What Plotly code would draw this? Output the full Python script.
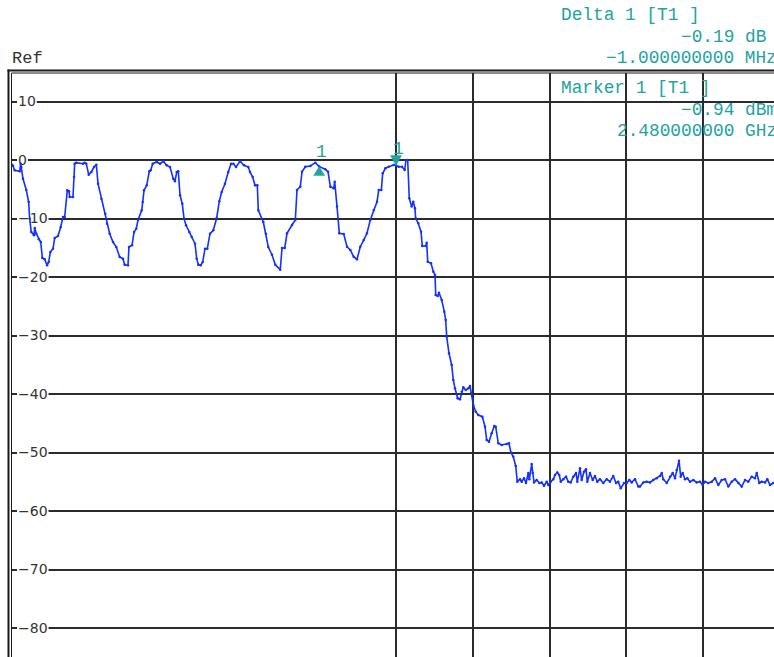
import plotly.graph_objects as go

START_MHZ = 2475.0

# Trace 1: frequency offset from the start frequency (MHz) and level (dBm)
offset_mhz = [
    0.000, 0.013, 0.035, 0.100, 0.113, 0.121, 0.143, 0.186, 0.217, 0.230,
    0.251, 0.286, 0.296, 0.316, 0.348, 0.374, 0.395, 0.426, 0.456, 0.478,
    0.499, 0.534, 0.556, 0.599, 0.634, 0.664, 0.686, 0.720, 0.742, 0.751,
    0.794, 0.807, 0.816, 0.837, 0.924, 0.947, 0.967, 0.999, 1.033, 1.068,
    1.098, 1.120, 1.163, 1.215, 1.237, 1.272, 1.315, 1.358, 1.402, 1.445,
    1.467, 1.510, 1.523, 1.563, 1.589, 1.618, 1.641, 1.689, 1.702, 1.719,
    1.754, 1.788, 1.806, 1.832, 1.884, 1.927, 1.970, 2.014, 2.057, 2.100,
    2.122, 2.145, 2.165, 2.188, 2.217, 2.240, 2.266, 2.309, 2.340, 2.383,
    2.405, 2.426, 2.457, 2.483, 2.513, 2.543, 2.578, 2.621, 2.665, 2.699,
    2.730, 2.773, 2.816, 2.852, 2.882, 2.917, 2.969, 3.021, 3.077, 3.099,
    3.134, 3.164, 3.194, 3.207, 3.272, 3.307, 3.337, 3.385, 3.428, 3.493,
    3.516, 3.551, 3.581, 3.646, 3.689, 3.711, 3.754, 3.776, 3.819, 3.884,
    3.949, 4.000, 4.079, 4.115, 4.145, 4.189, 4.202, 4.232, 4.262, 4.319,
    4.362, 4.405, 4.449, 4.492, 4.535, 4.579, 4.622, 4.665, 4.710, 4.753,
    4.775, 4.809, 4.827, 4.861, 4.905, 4.970, 5.000, 5.035, 5.078, 5.113,
    5.130, 5.152, 5.173, 5.204, 5.225, 5.247, 5.256, 5.290, 5.326, 5.342,
    5.387, 5.400, 5.413, 5.456, 5.486, 5.508, 5.517, 5.543, 5.560, 5.595,
    5.629, 5.647, 5.660, 5.690, 5.725, 5.746, 5.768, 5.803, 5.833, 5.855,
    5.876, 5.908, 5.941, 5.964, 5.977, 6.007, 6.038, 6.072, 6.124, 6.159,
    6.181, 6.211, 6.246, 6.280, 6.298, 6.332, 6.376, 6.441, 6.471, 6.497,
    6.527, 6.559, 6.579, 6.615, 6.637, 6.667, 6.693, 6.723, 6.736, 6.767,
    6.780, 6.797, 6.832, 6.866, 6.897, 6.927, 6.962, 6.983, 7.014, 7.048,
    7.070, 7.100, 7.126, 7.145, 7.178, 7.214, 7.243, 7.275, 7.309, 7.344,
    7.361, 7.396, 7.418, 7.448, 7.474, 7.491, 7.526, 7.561, 7.591, 7.621,
    7.656, 7.699, 7.743, 7.786, 7.829, 7.865, 7.894, 7.926, 7.969, 8.004,
    8.038, 8.069, 8.112, 8.155, 8.177, 8.220, 8.264, 8.307, 8.350, 8.395,
    8.438, 8.460, 8.480, 8.525, 8.568, 8.603, 8.633, 8.655, 8.685, 8.707,
    8.733, 8.763, 8.793, 8.828, 8.871, 8.915, 8.958, 8.993, 9.023, 9.066,
    9.111, 9.154, 9.197, 9.241, 9.284, 9.327, 9.371, 9.414, 9.457, 9.501,
    9.544, 9.587, 9.631, 9.674, 9.697, 9.730, 9.762, 9.805, 9.835, 9.870,
    9.913, 10.000,
]
level_dbm = [
    -0.80, -1.00, -1.76, -1.93, -0.63, -1.20, -3.20, -5.13, -7.18, -10.03,
    -12.31, -12.87, -11.62, -12.60, -13.56, -14.02, -16.75, -16.97, -18.00, -17.44,
    -15.73, -15.16, -13.33, -12.99, -11.45, -9.74, -9.74, -5.18, -5.35, -6.32,
    -6.32, -2.91, -0.63, -0.46, -0.63, -0.46, -0.63, -2.51, -2.05, -1.20,
    -0.80, -4.05, -6.62, -9.18, -10.89, -12.60, -14.02, -14.87, -16.58, -16.87,
    -17.90, -18.00, -14.87, -14.58, -12.31, -11.74, -10.26, -8.60, -7.18, -5.18,
    -4.33, -1.93, -1.76, -0.63, -0.34, -0.63, -0.22, -0.91, -1.20, -3.20,
    -3.64, -2.05, -1.93, -6.03, -7.47, -10.03, -11.16, -12.31, -13.16, -14.31,
    -16.87, -17.90, -18.00, -17.44, -15.16, -15.16, -12.60, -12.02, -9.91, -7.06,
    -5.47, -4.05, -2.05, -0.63, -0.63, -1.20, -0.22, -0.91, -1.20, -2.05,
    -2.91, -4.33, -4.33, -8.60, -10.60, -12.60, -14.87, -16.19, -17.90, -18.75,
    -15.04, -15.04, -12.53, -11.11, -10.26, -5.13, -4.56, -2.00, -1.15, -1.03,
    -0.46, -1.13, -1.59, -2.00, -4.56, -4.83, -3.70, -7.97, -12.53, -12.65,
    -14.82, -15.38, -16.53, -16.97, -14.82, -13.68, -12.53, -10.26, -8.55, -7.13,
    -5.13, -5.13, -2.27, -1.42, -1.15, -0.85, -0.94, -1.15, -1.15, -1.71,
    0.00, 0.00, -6.55, -7.97, -7.13, -8.26, -9.97, -10.82, -12.26, -14.70,
    -14.70, -14.13, -17.38, -17.66, -19.09, -19.66, -23.08, -23.25, -22.68, -23.93,
    -25.93, -27.35, -30.20, -33.04, -35.04, -37.61, -39.03, -40.74, -40.91, -39.62,
    -38.85, -39.32, -39.03, -38.63, -39.88, -41.88, -43.03, -43.59, -43.88, -45.59,
    -47.86, -48.15, -46.72, -45.47, -45.59, -48.43, -48.72, -48.55, -48.43, -50.03,
    -50.72, -52.31, -54.99, -54.56, -54.99, -54.40, -55.21, -53.50, -54.56, -51.97,
    -53.50, -55.11, -54.70, -55.21, -55.11, -55.68, -54.99, -55.56, -54.99, -54.56,
    -53.85, -53.40, -53.85, -54.99, -54.56, -54.13, -54.99, -55.11, -54.13, -53.50,
    -54.99, -52.70, -54.70, -53.28, -52.87, -54.99, -53.50, -54.70, -54.02, -54.99,
    -54.56, -55.21, -54.56, -54.99, -54.02, -55.21, -54.99, -56.12, -55.21, -55.21,
    -54.70, -55.11, -54.56, -55.81, -55.81, -55.11, -54.99, -55.11, -54.70, -54.40,
    -54.02, -53.50, -54.56, -55.21, -54.13, -53.50, -54.40, -52.99, -51.40, -54.13,
    -53.50, -54.56, -54.40, -54.99, -54.70, -55.11, -54.99, -55.56, -54.99, -55.21,
    -54.99, -54.40, -55.56, -54.70, -54.56, -55.81, -54.99, -54.56, -55.21, -55.81,
    -54.70, -54.99, -54.13, -54.40, -53.50, -55.21, -54.99, -55.11, -54.56, -55.56,
    -55.21, -55.00,
]

# Marker 1 (absolute) and Delta 1 (relative to marker 1)
marker_freq_mhz = 2480.0
marker_level_dbm = -0.94
delta_freq_mhz = -1.0
delta_level_db = -0.19

level_ticks = [10, 0, -10, -20, -30, -40, -50, -60, -70, -80]
freq_grid_mhz = [2480, 2481, 2482, 2483, 2484]

freq_mhz = [START_MHZ + o for o in offset_mhz]

TRACE_BLUE = "#1230ff"
TEAL = "#22a39e"
GRID = "#2b2b2b"
FRAME = "#1a1a1a"
MONO = "Liberation Mono"
MONO_SIZE = 17.8
TICK_SIZE = 14

W, H = 774, 657
L_M, T_M = 12, 73
PLOT_W, PLOT_H = W - L_M, H - T_M
PX_PER_MHZ = 76.8
PX_PER_DB = 5.85
ZERO_Y = 160.0  # pixel row of 0 dBm

x_range = [START_MHZ, START_MHZ + PLOT_W / PX_PER_MHZ]
y_range = [(ZERO_Y - H) / PX_PER_DB, (ZERO_Y - T_M) / PX_PER_DB]

fig = go.Figure()

fig.add_trace(go.Scatter(
    x=freq_mhz, y=level_dbm, mode="lines+markers",
    line=dict(color=TRACE_BLUE, width=1.6),
    marker=dict(color=TRACE_BLUE, size=2.5),
    hoverinfo="skip", showlegend=False,
))

shapes = []

# white gaps behind the level labels so the grid lines stop at the text
def label_width(txt):
    return sum((0.838 if ch == "\u2212" else 0.636) * TICK_SIZE for ch in txt)

for v in level_ticks:
    txt = ("\u2212" if v < 0 else "") + str(abs(v))
    shapes.append(dict(
        type="rect", layer="between",
        xref="x", xsizemode="pixel", xanchor=START_MHZ,
        x0=5, x1=7 + label_width(txt),
        yref="y", ysizemode="pixel", yanchor=v, y0=-3, y1=3,
        fillcolor="white", line=dict(width=0),
    ))

# double frame on the left and top
shapes.append(dict(type="line", xref="paper", xsizemode="pixel", xanchor=0,
                   x0=-0.5, x1=-0.5, yref="paper", y0=-0.05, y1=1.0,
                   line=dict(color=FRAME, width=1)))
shapes.append(dict(type="line", xref="paper", xsizemode="pixel", xanchor=0,
                   x0=-3.5, x1=-3.5, yref="paper", y0=-0.05, y1=1 + 3.5 / PLOT_H,
                   line=dict(color=FRAME, width=2)))
shapes.append(dict(type="line", xref="paper", x0=-0.5 / PLOT_W, x1=1.05,
                   yref="paper", ysizemode="pixel", yanchor=1, y0=0, y1=0,
                   line=dict(color=FRAME, width=1)))
shapes.append(dict(type="line", xref="paper", x0=-4.5 / PLOT_W, x1=1.05,
                   yref="paper", ysizemode="pixel", yanchor=1, y0=2.5, y1=2.5,
                   line=dict(color=FRAME, width=2)))

# marker symbols: down-triangle on marker 1, up-triangle on the delta marker
delta_abs_freq = marker_freq_mhz + delta_freq_mhz
delta_abs_level = marker_level_dbm + delta_level_db
shapes.append(dict(type="path", layer="above",
                   xref="x", xsizemode="pixel", xanchor=marker_freq_mhz,
                   yref="y", ysizemode="pixel", yanchor=marker_level_dbm,
                   path="M -5.5 10 L 5.5 10 L 0 0 Z",
                   fillcolor=TEAL, line=dict(color=TEAL, width=0.5)))
shapes.append(dict(type="path", layer="above",
                   xref="x", xsizemode="pixel", xanchor=delta_abs_freq,
                   yref="y", ysizemode="pixel", yanchor=delta_abs_level,
                   path="M -5.5 -9 L 5.5 -9 L 0 0 Z",
                   fillcolor=TEAL, line=dict(color=TEAL, width=0.5)))

annotations = []

def px_text(txt, left_px, center_px, color=TEAL, size=MONO_SIZE, family=MONO):
    annotations.append(dict(
        text=txt, xref="paper", yref="paper", x=0, y=1,
        xanchor="left", yanchor="middle",
        xshift=left_px - L_M, yshift=T_M - center_px,
        showarrow=False, font=dict(family=family, size=size, color=color),
    ))

def fmt_signed(v, nd):
    s = f"{abs(v):.{nd}f}"
    return ("\u2212" if v < 0 else "") + s

px_text("Delta 1 [T1 ]", 559, 15)
px_text(f"{fmt_signed(delta_level_db, 2)} dB", 679, 37)
px_text(f"{fmt_signed(delta_freq_mhz, 9)} MHz", 604, 58)
px_text("Marker 1 [T1 ]", 559, 88)
px_text(f"{fmt_signed(marker_level_dbm, 2)} dBm", 679, 110)
px_text(f"{marker_freq_mhz / 1000:.9f} GHz", 615, 131)
px_text("Ref", 10, 58, color="#333333", size=17)

# "1" labels over the marker symbols
for fx, lv, dy in [(marker_freq_mhz, marker_level_dbm, 17),
                   (delta_abs_freq, delta_abs_level, 15)]:
    annotations.append(dict(
        text="1", x=fx, y=lv, xref="x", yref="y", showarrow=False,
        xanchor="center", yanchor="middle", yshift=dy, xshift=2,
        font=dict(family=MONO, size=MONO_SIZE, color=TEAL),
    ))

fig.update_layout(
    width=W, height=H,
    margin=dict(l=L_M, r=0, t=T_M, b=0, pad=0),
    paper_bgcolor="white", plot_bgcolor="white",
    showlegend=False,
    shapes=shapes, annotations=annotations,
    xaxis=dict(
        range=x_range, tickvals=freq_grid_mhz, showticklabels=False,
        showgrid=True, gridcolor=GRID, gridwidth=2, zeroline=False,
        showline=False, ticks="", fixedrange=True,
    ),
    yaxis=dict(
        range=y_range, tickvals=level_ticks,
        showgrid=True, gridcolor=GRID, gridwidth=2, zeroline=False,
        showline=False, ticks="", ticklabelposition="inside",
        ticklabelstandoff=3, layer="below traces",
        tickfont=dict(family="DejaVu Sans", size=TICK_SIZE, color="#333333"),
        fixedrange=True,
    ),
)

fig.write_html("out.html")
